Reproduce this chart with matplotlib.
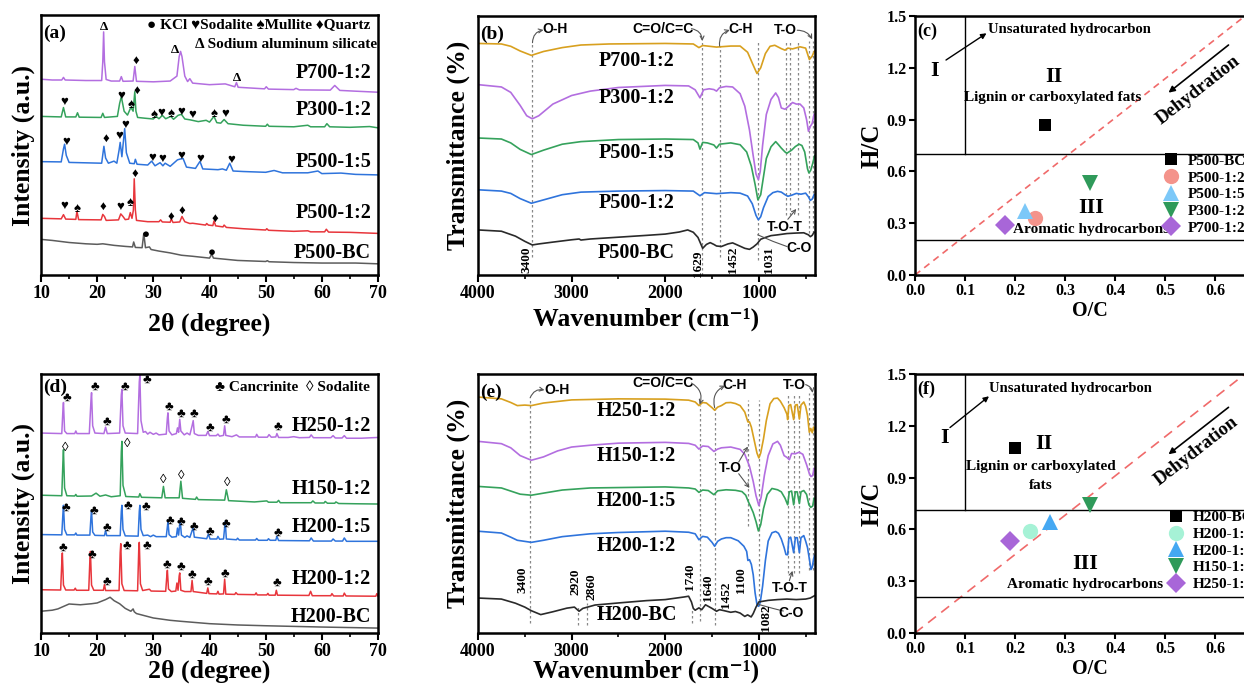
import matplotlib
matplotlib.use('Agg')
import matplotlib.pyplot as plt
from matplotlib.ticker import MultipleLocator, FormatStrFormatter

plt.rcParams['font.family'] = ['Liberation Serif', 'DejaVu Serif', 'DejaVu Sans']
plt.rcParams['font.weight'] = 'bold'
plt.rcParams['axes.linewidth'] = 1.8

# ---------------- (a) XRD, P series (2theta, intensity a.u.) ----------------
xrd_p700 = [(10, 75.3), (12, 75.0), (13.7, 75.0), (14.0, 76.0), (14.3, 75.0), (18, 74.8), (20.8, 74.8),
            (21.0, 82), (21.15, 93.5), (21.3, 82), (21.6, 75.2), (22.5, 74.6), (24.0, 74.6), (24.3, 76.3),
            (24.6, 74.5), (26.4, 74.6), (26.7, 80.2), (27.0, 74.5), (30, 74.3), (33, 74.6), (34.2, 76.5),
            (34.6, 84), (34.85, 86.0), (35.1, 84), (35.6, 76.5), (36.1, 74.4), (36.5, 75.5), (37.0, 73.8),
            (40, 73.2), (42.8, 73.5), (44.5, 72.4), (44.8, 74.0), (45.1, 72.2), (49.8, 71.6), (50.1, 72.4),
            (50.5, 71.5), (55, 71.3), (55.4, 71.8), (56, 71.2), (61.5, 71.1), (62.3, 72.9), (63.2, 71.0),
            (66, 70.7), (70, 70.3)]
xrd_p300 = [(10, 61.0), (13.6, 60.8), (14.0, 64.4), (14.4, 60.8), (16.2, 60.8), (16.5, 62.4), (16.8, 60.7),
            (20.7, 60.6), (21.0, 62.2), (21.3, 60.6), (23.6, 61.0), (24.0, 66.0), (24.3, 68.6), (24.8, 63.0),
            (25.4, 61.5), (26.0, 64.5), (26.4, 63.0), (26.7, 70.5), (26.9, 63.0), (27.2, 60.6), (28.5, 60.3),
            (30.0, 60.0), (30.5, 61.0), (31.0, 60.1), (31.6, 61.4), (32.2, 60.1), (33.1, 61.0), (33.6, 59.9),
            (34.4, 61.4), (35.0, 61.8), (35.6, 60.0), (36.5, 59.7), (38, 59.0), (39.4, 59.5), (40.0, 58.8),
            (40.8, 61.0), (41.3, 58.6), (42.0, 58.4), (42.6, 59.8), (43.3, 58.2), (46, 57.6), (50.0, 57.2),
            (50.3, 58.0), (50.6, 57.2), (55, 57.0), (57.5, 57.6), (58, 57.0), (60.5, 57.0), (60.9, 58.2),
            (61.4, 57.0), (65, 56.8), (68.5, 57.1), (70, 56.6)]
xrd_p500_15 = [(10, 43.6), (13.6, 43.5), (14.0, 48.5), (14.2, 50.3), (14.5, 46), (15.0, 43.3), (20.8, 43.0),
               (21.2, 49.5), (21.5, 45), (22.0, 43.0), (23.0, 43.8), (23.5, 43.0), (23.9, 48), (24.1, 51.0),
               (24.4, 45.5), (24.7, 52), (24.9, 56.3), (25.2, 47), (25.8, 43), (26.6, 42.8), (26.8, 44.5),
               (27.1, 42.6), (29.0, 42.3), (29.7, 43.8), (30.3, 42.0), (31.2, 43.2), (31.7, 42.0), (32.1, 43.0),
               (33.0, 41.8), (34.3, 44.3), (34.8, 44.6), (35.3, 44.8), (35.9, 41.5), (37.5, 41.0), (38.3, 43.7),
               (38.8, 40.8), (41.5, 40.5), (42.3, 40.8), (43.0, 40.3), (43.6, 43.0), (44.2, 40.0), (46, 39.8),
               (50, 39.5), (51.5, 40.2), (53, 39.3), (57.5, 39.3), (59.3, 40.0), (60, 39.0), (63.4, 39.2),
               (66, 38.7), (70, 38.5)]
xrd_p500_12 = [(10, 21.8), (13.6, 21.6), (14.0, 23.2), (14.4, 21.5), (16.2, 21.4), (16.4, 24.5), (16.7, 21.3),
               (20.7, 21.2), (21.0, 23.3), (21.3, 22.5), (21.6, 21.0), (23.8, 21.2), (24.2, 23.5), (24.6, 22.5),
               (25.0, 21.3), (25.6, 21.5), (25.9, 24.0), (26.2, 21.8), (26.45, 25), (26.6, 37.0), (26.8, 25),
               (27.0, 21.0), (29, 20.5), (31.0, 20.5), (31.3, 21.2), (31.6, 20.4), (33.0, 20.3), (33.2, 21.6),
               (33.5, 20.2), (34.7, 20.4), (35.1, 22.5), (35.6, 20.5), (36.5, 19.8), (37, 19.9), (39.3, 19.2),
               (39.5, 19.8), (39.8, 19.2), (40.6, 19.0), (40.8, 20.8), (41.1, 18.9), (42.4, 18.5), (42.6, 19.2),
               (43, 18.3), (46, 17.8), (50, 17.3), (50.2, 17.8), (50.5, 17.2), (55, 16.8), (57.5, 17.0),
               (58, 16.6), (60.5, 16.6), (60.8, 17.6), (61.2, 16.5), (65, 16.4), (70, 16.0)]
xrd_p500_bc = [(10, 13.7), (12, 13.3), (15, 12.5), (18, 12.0), (20, 11.8), (21, 12.0), (23, 11.4), (25, 11.0),
               (26.3, 10.8), (26.5, 12.7), (26.8, 10.6), (28.0, 10.5), (28.3, 16.0), (28.6, 10.5), (29.3, 10.8),
               (29.6, 9.8), (31, 9.2), (33, 8.5), (35, 7.6), (37, 7.2), (40, 6.5), (40.4, 8.0), (40.7, 6.5),
               (45, 5.6), (50, 5.2), (50.3, 5.5), (50.6, 5.1), (55, 4.8), (60, 4.6), (66, 4.6), (70, 4.3)]
a_names = ['P700-1:2', 'P300-1:2', 'P500-1:5', 'P500-1:2', 'P500-BC']
a_label_y = [77.6, 63.5, 43.6, 23.7, 8.3]
a_phase_marks = [('Δ', 21.2, 95.5), ('♦', 26.9, 82.5), ('Δ', 33.8, 86.5), ('Δ', 44.9, 75.8),
                 ('♥', 14.2, 66.5), ('♥', 24.3, 69.0), ('♠', 26.0, 65.2), ('♦', 27.1, 71.0), ('♠', 30.1, 61.5),
                 ('♥', 31.5, 62.5), ('♠', 33.1, 62.0), ('♥', 35.0, 62.8), ('♥', 36.9, 61.5), ('♠', 40.8, 61.8),
                 ('♥', 42.8, 61.8),
                 ('♥', 14.5, 51.3), ('♦', 21.6, 52.2), ('♥', 23.9, 53.5), ('♥', 25.0, 57.8), ('♥', 29.8, 44.9),
                 ('♥', 31.6, 44.5), ('♥', 35.0, 45.8), ('♥', 38.4, 44.6), ('♥', 43.8, 44.2),
                 ('♥', 14.1, 26.5), ('♠', 16.5, 25.5), ('♦', 21.0, 26.2), ('♥', 24.1, 26.2), ('♠', 25.8, 27.8),
                 ('♦', 26.7, 38.8), ('♦', 33.2, 22.2), ('♦', 35.1, 24.6), ('♦', 40.9, 21.5),
                 ('●', 28.6, 15.5), ('●', 40.5, 8.6)]

# ---------------- (d) XRD, H series ----------------
xrd_h250 = [(10, 77.2), (13.7, 77.0), (13.9, 86), (14.0, 89.0), (14.2, 78), (14.6, 77.0), (16.0, 77.0),
            (16.2, 78.0), (16.4, 77.0), (18.6, 77.0), (18.9, 90), (19.0, 92.8), (19.2, 80), (19.6, 77.2),
            (21.2, 77.0), (21.5, 79.5), (21.8, 77.0), (24.0, 77.2), (24.3, 92), (24.4, 94.0), (24.6, 80),
            (25.0, 77.2), (27.2, 77.0), (27.5, 97), (27.6, 99.5), (27.8, 82), (28.2, 77.5), (28.6, 77.8),
            (29.0, 76.8), (29.4, 77.5), (30, 76.7), (30.5, 77.2), (31, 76.5), (32.3, 76.8), (32.5, 83),
            (32.6, 85.0), (32.8, 78), (33.3, 76.5), (34.1, 77), (34.3, 79.2), (34.5, 77.5), (34.7, 82.5),
            (34.9, 78), (35.5, 76.5), (36.0, 77.2), (36.5, 76.5), (36.9, 80), (37.1, 82.0), (37.3, 77),
            (38.0, 76.3), (39.4, 76.3), (39.7, 77.8), (40.0, 76.2), (41.2, 76.2), (41.5, 76.8), (41.8, 76.0),
            (42.5, 76.3), (42.7, 80.0), (42.9, 76.3), (44, 75.8), (44.8, 76.5), (45.3, 75.7), (48.2, 75.7),
            (48.4, 76.7), (48.7, 75.6), (50.3, 75.6), (50.6, 76.6), (51.0, 75.6), (51.8, 75.7), (52.0, 77.0),
            (52.3, 75.5), (54, 75.5), (55, 75.8), (56, 75.4), (57.8, 75.5), (58.1, 76.5), (58.5, 75.4),
            (61.6, 75.4), (62.0, 76.2), (62.4, 75.3), (63.6, 75.3), (64.0, 76.2), (64.4, 75.2), (67, 75.2),
            (70, 75.5)]
xrd_h150 = [(10, 53.2), (13.7, 53.0), (13.9, 66), (14.0, 70.8), (14.2, 56), (14.6, 53.0), (16.0, 52.9),
            (16.2, 53.5), (16.4, 52.8), (19.0, 52.9), (19.8, 54.0), (20.5, 52.8), (21.5, 53.3), (22.5, 52.6),
            (24.1, 53), (24.3, 70), (24.4, 74.0), (24.6, 57), (25.1, 52.7), (27.4, 52.5), (27.6, 53.8),
            (27.9, 52.4), (31.5, 52.2), (31.8, 56.6), (32.1, 52.2), (34.6, 52.2), (34.9, 58.6), (35.2, 52.0),
            (37.5, 51.6), (37.7, 52.5), (38.0, 51.5), (42.7, 51.3), (43.0, 55.3), (43.4, 51.1), (48, 50.6),
            (50.2, 51.0), (50.5, 50.5), (52.0, 50.5), (52.3, 51.2), (52.6, 50.3), (58.1, 50.3), (58.4, 51.0),
            (58.8, 50.2), (60.4, 50.2), (60.6, 50.8), (61, 50.1), (62.3, 50.1), (62.5, 50.6), (63, 50.0),
            (66, 49.9), (70, 49.8)]
xrd_h200_15 = [(10, 38.0), (13.7, 37.9), (13.9, 46), (14.0, 49.3), (14.2, 40), (14.6, 37.9), (16.0, 37.9),
               (16.2, 38.6), (16.4, 37.8), (18.7, 37.8), (18.9, 45), (19.0, 47.2), (19.2, 39), (19.6, 37.7),
               (21.3, 37.6), (21.5, 39.6), (21.7, 37.6), (24.1, 37.6), (24.3, 47), (24.4, 49.3), (24.6, 40),
               (25.0, 37.5), (27.3, 37.4), (27.5, 47), (27.6, 49.3), (27.8, 40), (28.2, 37.6), (29.0, 37.8),
               (29.5, 37.2), (30.0, 37.8), (30.5, 37.2), (32.3, 37.2), (32.5, 41), (32.6, 43.1), (32.8, 38),
               (33.3, 37.0), (34.1, 37.2), (34.3, 40.5), (34.5, 37.8), (34.7, 42), (34.8, 43.1), (35.0, 37.8),
               (35.6, 36.9), (36.0, 37.5), (36.5, 36.9), (36.9, 39.5), (37.1, 40.5), (37.3, 37.0), (39.5, 36.4),
               (39.8, 38.2), (40.1, 36.3), (41.3, 36.3), (41.5, 37.3), (41.8, 36.2), (42.5, 36.3), (42.8, 43.1),
               (43.0, 36.3), (44.8, 36.0), (45, 36.6), (45.3, 35.9), (48.2, 35.9), (48.4, 36.5), (48.7, 35.8),
               (50.3, 35.8), (50.5, 36.4), (50.8, 35.8), (51.8, 35.8), (52.0, 37.3), (52.3, 35.7), (57.8, 35.6),
               (58.1, 36.7), (58.5, 35.5), (61.7, 35.5), (62.0, 36.3), (62.4, 35.5), (63.7, 35.5), (64.0, 36.7),
               (64.4, 35.4), (70, 35.4)]
xrd_h200_12 = [(10, 16.7), (13.5, 16.6), (13.7, 27), (13.8, 30.9), (14.0, 18.5), (14.4, 16.6), (15.9, 16.6),
               (16.1, 17.3), (16.3, 16.5), (18.5, 16.5), (18.7, 28), (18.8, 31.5), (19.0, 18.5), (19.4, 16.5),
               (21.1, 16.5), (21.3, 18.7), (21.5, 16.4), (23.9, 16.4), (24.1, 31), (24.2, 34.5), (24.4, 19),
               (24.8, 16.4), (27.2, 16.3), (27.4, 32), (27.5, 35.0), (27.7, 19), (28.1, 16.4), (29.3, 16.9),
               (29.6, 16.2), (32.2, 16.1), (32.4, 22), (32.5, 24.2), (32.7, 17), (33.2, 16.0), (34.0, 16.2),
               (34.2, 19.3), (34.4, 16.5), (34.6, 22), (34.7, 23.2), (34.9, 16.5), (35.6, 16.0), (36.7, 16.0),
               (36.9, 20.3), (37.1, 16.0), (39.5, 15.3), (39.7, 17.4), (39.9, 15.2), (41.3, 15.1), (41.5, 16.1),
               (41.7, 15.0), (42.5, 15.1), (42.7, 20.8), (42.9, 15.0), (44.5, 14.9), (44.7, 15.6), (45, 14.9),
               (48.1, 14.8), (48.3, 15.5), (48.5, 14.7), (50.2, 14.7), (50.4, 15.3), (50.6, 14.6), (51.7, 14.6),
               (51.9, 16.5), (52.1, 14.6), (57.7, 14.5), (58.0, 16.1), (58.3, 14.4), (61.6, 14.4), (61.8, 15.2),
               (62.1, 14.3), (63.8, 14.3), (64.0, 15.4), (64.3, 14.3), (69.6, 14.2), (69.8, 15.2), (70, 14.2)]
xrd_h200_bc = [(10, 8.4), (12, 8.8), (13, 9.3), (15, 11.2), (17, 10.9), (19, 11.3), (20, 11.6), (21.5, 12.9),
               (22.3, 13.8), (23, 12.5), (24, 11.3), (25, 9.5), (26, 8.4), (26.4, 9.3), (26.6, 8.2), (27, 7.5),
               (30, 5.8), (33, 4.9), (35, 4.5), (40, 3.6), (45, 3.1), (50, 2.8), (60, 2.3), (70, 1.9)]
d_names = ['H250-1:2', 'H150-1:2', 'H200-1:5', 'H200-1:2', 'H200-BC']
d_label_y = [80.0, 55.6, 40.8, 20.8, 6.2]
d_phase_marks = [('♣', 14.6, 90.7), ('♣', 19.6, 95.0), ('♣', 21.7, 81.7), ('♣', 25.0, 95.0), ('♣', 28.8, 97.8),
                 ('♣', 32.8, 87.5), ('♣', 35.0, 84.7), ('♣', 37.3, 84.7), ('♣', 40.0, 79.2), ('♣', 42.9, 82.4),
                 ('♣', 52.2, 79.5),
                 ('◊', 14.3, 71.4), ('◊', 25.3, 73.1), ('◊', 31.8, 58.9), ('◊', 34.9, 60.5), ('◊', 43.1, 57.9),
                 ('♣', 14.5, 48.3), ('♣', 19.5, 47.0), ('♣', 21.7, 40.5), ('♣', 25.4, 49.3), ('♣', 28.7, 48.9),
                 ('♣', 33.0, 43.4), ('♣', 35.0, 42.9), ('♣', 37.3, 40.9), ('♣', 40.0, 39.0), ('♣', 42.9, 42.2),
                 ('♣', 52.2, 38.6),
                 ('♣', 14.0, 32.8), ('♣', 19.0, 30.2), ('♣', 21.7, 19.9), ('♣', 25.3, 33.5), ('♣', 28.8, 33.5),
                 ('♣', 32.5, 26.4), ('♣', 35.0, 25.7), ('♣', 36.9, 22.5), ('♣', 39.8, 19.6), ('♣', 42.7, 22.9),
                 ('♣', 52.0, 19.3)]

# ---------------- (b) FTIR, P series (wavenumber, transmittance a.u.) ----------------
ir_p700 = [(4000, 89.4), (3750, 89.2), (3650, 88.3), (3550, 86.5), (3430, 84.8), (3300, 86.3), (3100, 87.8),
           (2900, 88.8), (2600, 89.2), (2000, 89.4), (1700, 89.2), (1640, 87.8), (1600, 88.6), (1452, 88.0),
           (1300, 88.4), (1200, 88.4), (1120, 86), (1060, 81), (1020, 77.8), (980, 80), (930, 85.5),
           (880, 88.3), (830, 88.7), (760, 87.4), (720, 86.8), (690, 87.6), (640, 87.3), (560, 88.1),
           (500, 87.6), (460, 83.2), (430, 84.5), (415, 85.8), (405, 86.5)]
ir_p300 = [(4000, 73.5), (3750, 72.6), (3650, 70.5), (3550, 65.5), (3480, 61.5), (3420, 60.3), (3350, 61.5),
           (3200, 66.0), (3000, 69.3), (2800, 71.0), (2500, 72.4), (2000, 73.2), (1750, 73.0), (1680, 71.5),
           (1629, 68.4), (1590, 71.5), (1530, 71.9), (1480, 71.6), (1452, 71.0), (1420, 72.3), (1350, 72.8),
           (1280, 72.6), (1200, 70.0), (1150, 65.2), (1100, 56), (1060, 46), (1030, 39), (1005, 36.8),
           (985, 40), (960, 50), (920, 62), (870, 67.8), (820, 70.3), (790, 68.5), (760, 64.5), (720, 64.0),
           (700, 64.6), (680, 65.2), (640, 66.6), (600, 66.0), (560, 66.0), (520, 64.5), (490, 60),
           (470, 55.5), (450, 57.4), (430, 58.5), (410, 62.0)]
ir_p500_15 = [(4000, 52.9), (3750, 52.5), (3650, 51.0), (3550, 48.5), (3430, 46.5), (3300, 48.2), (3100, 50.5),
              (2900, 51.5), (2500, 52.3), (2000, 52.5), (1700, 52.3), (1650, 51.0), (1629, 48.6), (1600, 51.2),
              (1550, 51.0), (1480, 50.2), (1452, 49.0), (1420, 50.5), (1300, 51.0), (1200, 50.3), (1130, 47.5),
              (1080, 42), (1040, 35), (1010, 29.0), (980, 31), (950, 38), (920, 45), (870, 49.5), (820, 51.5),
              (790, 50.3), (760, 49.0), (720, 47.5), (700, 47.0), (680, 47.5), (650, 48.2), (610, 49.6),
              (570, 50.5), (540, 50.0), (510, 47.5), (480, 41), (465, 39.4), (445, 40.5), (425, 43.0),
              (405, 46.0)]
ir_p500_12 = [(4000, 32.9), (3750, 32.4), (3650, 31.5), (3550, 29.5), (3430, 27.7), (3300, 29.0), (3100, 31.0),
              (2900, 32.0), (2500, 32.4), (2000, 32.6), (1700, 32.4), (1629, 30.6), (1580, 31.8), (1452, 31.4),
              (1300, 31.8), (1200, 31.6), (1120, 30.5), (1070, 27.5), (1030, 23.0), (1005, 21.3), (980, 22.5),
              (950, 26.0), (900, 30.3), (850, 31.8), (800, 32.3), (760, 32.0), (720, 31.0), (690, 30.4),
              (650, 30.8), (600, 31.5), (550, 31.2), (500, 31.6), (470, 30.2), (450, 28.8), (430, 29.3),
              (410, 31.0)]
ir_p500_bc = [(4000, 17.4), (3750, 16.9), (3600, 15.0), (3500, 13.0), (3420, 11.6), (3350, 12.0), (3200, 12.7),
              (3000, 13.6), (2920, 13.9), (2900, 13.5), (2800, 13.9), (2500, 14.6), (2200, 15.3), (2000, 15.8),
              (1850, 16.6), (1760, 17.4), (1700, 16.5), (1650, 14.5), (1600, 10.3), (1560, 11.8), (1520, 12.5),
              (1480, 11.8), (1452, 11.2), (1400, 11.0), (1330, 12.0), (1280, 12.4), (1230, 11.6), (1150, 10.3),
              (1100, 9.9), (1060, 10.8), (1020, 12.0), (980, 13.8), (930, 14.5), (870, 15.2), (800, 15.5),
              (700, 16.0), (600, 16.2), (520, 16.3), (470, 15.5), (450, 14.8), (430, 15.3), (410, 16.5)]
b_label_y = [82.6, 68.4, 47.1, 27.7, 8.4]
# dashed guide lines: (wavenumber, y from, y to)
b_guides = [(3418, 7.1, 89.7), (1604, 0, 90.3), (1419, 7.1, 88.4), (1011, 5.8, 90.3), (709, 23.2, 90.3),
            (667, 23.2, 90.3), (581, 23.2, 90.3), (468, 16.1, 90.3), (426, 16.1, 90.3)]
b_numbers = [('3400', 3478, 5.8), ('1629', 1650, 4.5), ('1452', 1277, 5.8), ('1031', 887, 5.8)]

# ---------------- (e) FTIR, H series ----------------
ir_h250 = [(4000, 91.1), (3750, 90.4), (3650, 89.0), (3580, 87.8), (3500, 88.0), (3430, 87.8), (3300, 88.8),
           (3000, 90.0), (2500, 90.4), (2000, 90.3), (1750, 89.9), (1680, 89.2), (1640, 87.8), (1600, 89.0),
           (1560, 88.8), (1500, 87.0), (1472, 86.0), (1440, 87.2), (1400, 87.8), (1350, 88.9), (1300, 89.0),
           (1250, 88.6), (1200, 87.8), (1150, 85.3), (1117, 81.5), (1100, 81.5), (1080, 79.5), (1050, 74.5),
           (1020, 69.5), (1000, 67.6), (980, 69.5), (950, 75), (920, 82), (880, 88.5), (840, 90.5),
           (800, 90.7), (770, 89.5), (730, 87.0), (700, 84.5), (692, 82.4), (680, 87.8), (660, 88.2),
           (628, 82.4), (610, 88.0), (590, 88.2), (567, 82.6), (550, 88.0), (520, 89.2), (500, 87.5),
           (480, 84.0), (461, 77.5), (445, 79.0), (429, 77.3), (415, 79.5), (405, 78.5)]
ir_h150 = [(4000, 74.0), (3750, 73.1), (3650, 71.5), (3550, 68.5), (3430, 66.7), (3300, 68.0), (3150, 70.3),
           (3000, 71.8), (2800, 72.5), (2500, 73.3), (2000, 73.6), (1750, 73.2), (1680, 72.5), (1640, 71.0),
           (1600, 72.2), (1540, 72.0), (1480, 70.1), (1440, 71.0), (1400, 71.5), (1300, 71.8), (1200, 70.9),
           (1150, 69.0), (1100, 64.4), (1060, 58.5), (1030, 53), (1000, 49.2), (975, 52.5), (940, 61),
           (900, 68.5), (850, 73.0), (800, 74.0), (770, 72.5), (730, 68.5), (700, 67.8), (674, 66.9),
           (650, 69.3), (610, 69.2), (570, 69.8), (530, 69.0), (490, 65.0), (460, 61.5), (443, 60.4),
           (425, 60.8), (410, 63.5)]
ir_h200_15 = [(4000, 56.6), (3750, 56.0), (3650, 54.8), (3550, 53.6), (3430, 53.2), (3300, 54.0), (3100, 55.2),
              (2800, 56.0), (2000, 56.4), (1750, 56.0), (1680, 55.6), (1640, 54.3), (1600, 55.2), (1540, 55.0),
              (1480, 53.4), (1440, 54.9), (1350, 55.3), (1250, 55.1), (1180, 54.6), (1140, 53.2), (1110, 50.5),
              (1090, 49.0), (1060, 46.5), (1030, 43.0), (1005, 39.4), (980, 41.8), (950, 48), (910, 53.5),
              (860, 55.8), (800, 55.3), (760, 54.5), (720, 52.0), (692, 49.5), (675, 54.5), (650, 54.8),
              (628, 49.5), (610, 54.5), (590, 54.5), (567, 50.0), (550, 54.5), (520, 55.0), (490, 53.5),
              (465, 49.5), (445, 48.5), (425, 49.0), (410, 52.0)]
ir_h200_12 = [(4000, 39.3), (3750, 38.6), (3650, 37.0), (3580, 35.8), (3430, 35.0), (3300, 35.8), (3100, 37.2),
              (2800, 38.3), (2500, 38.8), (2000, 39.3), (1750, 38.9), (1680, 38.3), (1640, 36.0), (1600, 37.3),
              (1550, 37.0), (1500, 35.0), (1472, 33.5), (1440, 35.4), (1400, 36.3), (1350, 36.8), (1300, 36.8),
              (1220, 35.6), (1160, 33.5), (1130, 31.5), (1117, 28.0), (1100, 28.3), (1080, 26.5), (1060, 22.5),
              (1040, 15.5), (1020, 11.0), (1005, 10.3), (985, 11.8), (960, 18), (930, 28), (900, 35.5),
              (860, 38.7), (820, 39.2), (790, 38.5), (760, 36.3), (730, 33.0), (710, 30.3), (692, 30.2),
              (680, 36.5), (660, 37.0), (628, 31.0), (610, 36.8), (590, 36.8), (567, 31.0), (550, 36.8),
              (520, 37.6), (500, 35.5), (480, 33.0), (460, 28.5), (443, 24.5), (429, 25.5), (415, 28.5),
              (405, 30.0)]
ir_h200_bc = [(4000, 13.5), (3750, 13.1), (3600, 11.5), (3500, 10.0), (3430, 8.6), (3330, 7.1), (3200, 8.2),
              (3050, 9.6), (2970, 10.0), (2920, 8.4), (2880, 9.5), (2860, 9.7), (2750, 10.8), (2500, 11.6),
              (2200, 12.5), (2000, 12.9), (1800, 13.9), (1750, 14.2), (1720, 12.0), (1700, 9.5), (1680, 8.8),
              (1640, 9.7), (1610, 9.0), (1570, 10.9), (1540, 10.3), (1500, 9.5), (1452, 8.4), (1420, 9.0),
              (1380, 8.7), (1300, 8.0), (1250, 8.3), (1200, 7.7), (1150, 6.4), (1120, 7.0), (1082, 6.2),
              (1060, 7.5), (1030, 10.0), (1000, 12.0), (950, 12.3), (900, 12.6), (800, 12.9), (700, 13.1),
              (600, 12.9), (500, 13.1), (450, 13.5), (405, 14.4)]
e_label_y = [85.6, 68.2, 50.8, 33.5, 7.1]
e_guides = [(3443, 3.9, 90.8), (2928, 3.2, 10.3), (2839, 3.2, 11.6), (1710, 3.9, 9.0), (1632, 4.5, 88.2),
            (1472, 3.2, 87.0), (1117, 41.2, 90.1), (1000, 10.3, 90.1), (692, 23.2, 92.7), (628, 23.2, 92.7),
            (567, 23.2, 92.7), (468, 24.5, 92.7), (425, 24.5, 92.7)]
e_numbers = [('3400', 3521, 20.6), ('2920', 2963, 19.9), ('2860', 2786, 18.0), ('1740', 1730, 21.9),
             ('1640', 1542, 17.4), ('1452', 1354, 14.8), ('1100', 1188, 20.6), ('1082', 922, 5.8)]

# ---------------- (c)/(f) van Krevelen ----------------
c_names = ['P500-BC', 'P500-1:2', 'P500-1:5', 'P300-1:2', 'P700-1:2']
c_oc = [0.26, 0.24, 0.22, 0.35, 0.18]
c_hc = [0.87, 0.33, 0.37, 0.53, 0.29]
f_names = ['H200-BC', 'H200-1:2', 'H200-1:5', 'H150-1:2', 'H250-1:2']
f_oc = [0.20, 0.23, 0.27, 0.35, 0.19]
f_hc = [1.07, 0.59, 0.64, 0.74, 0.53]
diag_oc = [0.0, 0.66]
diag_hc = [0.0, 1.5]

xrd_colors = ['#b36ee0', '#35a25c', '#2f74dc', '#e8363c', '#5c5c5c']
ir_colors = ['#d8a01f', '#b36ee0', '#35a25c', '#2f74dc', '#2a2a2a']
c_colors = ['#000000', '#f4938b', '#7cc8f8', '#2f9a5a', '#a866d8']
f_colors = ['#000000', '#a6f2d6', '#45a8f2', '#2f9a5a', '#a866d8']
vk_markers = ['s', 'o', '^', 'v', 'D']
vk_sizes = [9, 11, 11, 11, 10]

fig = plt.figure(figsize=(12.44, 6.91), dpi=100)
W, H = 1244.0, 691.0


def box(l, t, r, b):
    return [l / W, 1 - b / H, (r - l) / W, (b - t) / H]


def frame(ax, lab, lab_y, ylabel, ylp):
    ax.set_yticks([])
    ax.tick_params(axis='x', which='major', direction='out', length=5, width=1.5, labelsize=13, pad=2)
    ax.tick_params(axis='x', which='minor', direction='out', length=3, width=1.2)
    ax.set_ylim(0, 100)
    ax.set_ylabel(ylabel, fontsize=18.5, fontweight='bold', labelpad=ylp)
    ax.text(0.006, lab_y, lab, transform=ax.transAxes, fontsize=14, fontweight='bold', va='center')


def xrd_panel(ax, curves, names, label_y, marks, lab, lab_y, xlp):
    for pts, c in zip(curves, xrd_colors):
        xs, ys = zip(*pts)
        ax.plot(xs, ys, color=c, lw=1.1)
    for n, y in zip(names, label_y):
        ax.text(68.8, y, n, ha='right', va='center', fontsize=14.5, fontweight='bold')
    for s, x, y in marks:
        ax.text(x, y, s, ha='center', va='center', fontsize=9.5, color='black')
    ax.set_xlim(10, 70)
    ax.xaxis.set_major_locator(MultipleLocator(10))
    ax.xaxis.set_minor_locator(MultipleLocator(5))
    ax.set_xlabel('2θ (degree)', fontsize=18.5, fontweight='bold', labelpad=xlp)
    frame(ax, lab, lab_y, 'Intensity (a.u.)', 4)


def ir_panel(ax, curves, label_y, names, guides, numbers, lab, lab_y, xlp):
    for wn, y0, y1 in guides:
        ax.plot([wn, wn], [y0, y1], color='#888888', lw=0.9, ls=(0, (2, 2)))
    for pts, c in zip(curves, ir_colors):
        xs, ys = zip(*pts)
        ax.plot(xs, ys, color=c, lw=1.2)
    for n, y in zip(names, label_y):
        ax.text(2307, y, n, ha='center', va='center', fontsize=14.5, fontweight='bold')
    for t, x, y in numbers:
        ax.text(x, y, t, rotation=90, ha='center', va='center', fontsize=9.5, fontweight='bold')
    ax.set_xlim(4000, 400)
    ax.xaxis.set_major_locator(MultipleLocator(1000))
    ax.xaxis.set_minor_locator(MultipleLocator(500))
    ax.set_xlabel('Wavenumber (cm⁻¹)', fontsize=18.5, fontweight='bold', labelpad=xlp)
    frame(ax, lab, lab_y, 'Transmittance (%)', 6)


sans = dict(family=['Liberation Sans', 'DejaVu Sans'], fontsize=10, fontweight='bold')
arr = dict(arrowstyle='->', color='#555555', lw=0.8, shrinkA=0, shrinkB=0, mutation_scale=7)


def curved(ax, start, end, rad):
    a = dict(arr)
    a['connectionstyle'] = 'arc3,rad=%s' % rad
    ax.annotate('', xy=end, xytext=start, arrowprops=a)


def vk_panel(ax, oc, hc, names, colors, hlines, lab, texts, diag_dash, legend_top):
    ax.plot(diag_oc, diag_hc, color='#f06a6a', lw=1.2, ls=(0, diag_dash))
    ax.plot([0.1, 0.1], [hlines[0], 1.5], color='black', lw=1.0)
    for h in hlines:
        ax.axhline(h, color='black', lw=1.0)
    for x, y, n, c, m, s in zip(oc, hc, names, colors, vk_markers, vk_sizes):
        ax.plot([x], [y], ls='none', marker=m, color=c, ms=s, label=n, markeredgewidth=0)
    ax.legend(loc='upper left', bbox_to_anchor=legend_top, bbox_transform=ax.transData, frameon=False,
              handlelength=1.0, handletextpad=0.6, labelspacing=0.2, borderpad=0,
              borderaxespad=0, prop=dict(weight='bold', size=11))
    ax.set_xlim(0, 0.7)
    ax.set_ylim(0, 1.5)
    ax.xaxis.set_major_locator(MultipleLocator(0.1))
    ax.yaxis.set_major_locator(MultipleLocator(0.3))
    ax.xaxis.set_major_formatter(FormatStrFormatter('%.1f'))
    ax.yaxis.set_major_formatter(FormatStrFormatter('%.1f'))
    ax.tick_params(direction='out', length=4, width=1.5, labelsize=11.5, pad=2)
    ax.set_xlabel('O/C', fontsize=14.5, fontweight='bold', labelpad=1)
    ax.set_ylabel('H/C', fontsize=18, fontweight='bold', labelpad=2)
    ax.text(0.005, 1.41, lab, fontsize=13, fontweight='bold', va='center')
    for t, x, y, fs, ha in texts:
        ax.text(x, y, t, fontsize=fs, fontweight='bold', ha=ha, va='center')


# (a)
ax = fig.add_axes(box(41, 15, 378, 275))
xrd_panel(ax, [xrd_p700, xrd_p300, xrd_p500_15, xrd_p500_12, xrd_p500_bc], a_names, a_label_y,
          a_phase_marks, '(a)', 0.93, 8)
ax.text(68.6, 96.2, '● KCl ♥Sodalite ♠Mullite ♦Quartz', ha='right', va='center', fontsize=11)
ax.text(69.8, 88.5, 'Δ Sodium aluminum silicate', ha='right', va='center', fontsize=11)

# (d)
ax = fig.add_axes(box(41, 374, 378, 633))
xrd_panel(ax, [xrd_h250, xrd_h150, xrd_h200_15, xrd_h200_12, xrd_h200_bc], d_names, d_label_y,
          d_phase_marks, '(d)', 0.95, 0)
ax.text(68.6, 94.6, '♣ Cancrinite  ◊ Sodalite', ha='right', va='center', fontsize=11)

# (b)
ax = fig.add_axes(box(478, 16, 815, 275))
ir_panel(ax, [ir_p700, ir_p300, ir_p500_15, ir_p500_12, ir_p500_bc], b_label_y, a_names, b_guides,
         b_numbers, '(b)', 0.93, 4)
ax.text(3180, 94.8, 'O-H', ha='center', va='center', **sans)
curved(ax, (3418, 89.7), (3300, 94.6), -0.4)
ax.text(2020, 95.1, 'C=O/C=C', ha='center', va='center', **sans)
curved(ax, (1720, 95.1), (1604, 90.3), -0.4)
ax.text(1200, 94.8, 'C-H', ha='center', va='center', **sans)
curved(ax, (1419, 88.4), (1310, 94.6), -0.4)
ax.text(715, 94.5, 'T-O', ha='center', va='center', **sans)
curved(ax, (590, 94.5), (430, 91.0), -0.3)
ax.text(720, 18.7, 'T-O-T', ha='center', va='center', **sans)
curved(ax, (690, 21.5), (600, 25.5), 0)
ax.text(575, 10.3, 'C-O', ha='center', va='center', **sans)
ax.plot([1011, 850, 700], [15.5, 13.0, 11.0], color='#555555', lw=0.8)

# (e)
ax = fig.add_axes(box(478, 374, 815, 633))
ir_panel(ax, [ir_h250, ir_h150, ir_h200_15, ir_h200_12, ir_h200_bc], e_label_y, d_names, e_guides,
         e_numbers, '(e)', 0.93, 0)
ax.text(3160, 94.0, 'O-H', ha='center', va='center', **sans)
curved(ax, (3443, 90.8), (3290, 93.8), -0.4)
ax.text(2020, 96.5, 'C=O/C=C', ha='center', va='center', **sans)
curved(ax, (1720, 96.5), (1632, 88.2), -0.4)
ax.text(1260, 95.9, 'C-H', ha='center', va='center', **sans)
curved(ax, (1472, 87.0), (1360, 95.5), -0.4)
ax.text(620, 95.9, 'T-O', ha='center', va='center', **sans)
curved(ax, (500, 95.9), (425, 92.7), -0.3)
ax.text(1300, 63.7, 'T-O', ha='center', va='center', **sans)
curved(ax, (1215, 66.0), (1117, 72.0), 0)
curved(ax, (1215, 61.5), (1100, 56.0), 0)
ax.text(674, 17.4, 'T-O-T', ha='center', va='center', **sans)
curved(ax, (674, 20.2), (640, 24.0), 0)
ax.text(657, 7.7, 'C-O', ha='center', va='center', **sans)
ax.plot([1000, 850, 740], [11.0, 9.5, 8.5], color='#555555', lw=0.8)

# (c)
ax = fig.add_axes(box(915, 16, 1265, 275))
c_texts = [('Unsaturated hydrocarbon', 0.147, 1.419, 10.5, 'left'), ('I', 0.04, 1.183, 16, 'center'),
           ('II', 0.277, 1.149, 16, 'center'), ('Lignin or carboxylated fats', 0.275, 1.027, 11, 'center'),
           ('III', 0.353, 0.386, 16, 'center'), ('Aromatic hydrocarbons', 0.353, 0.264, 11, 'center')]
vk_panel(ax, c_oc, c_hc, c_names, c_colors, [0.7, 0.2], '(c)', c_texts, (4, 3), (0.497, 0.70))
ax.annotate('', xy=(0.143, 1.40), xytext=(0.062, 1.245),
            arrowprops=dict(arrowstyle='-|>', color='black', lw=1.0, mutation_scale=8, shrinkA=0, shrinkB=0))
ax.annotate('', xy=(0.507, 1.056), xytext=(0.627, 1.332),
            arrowprops=dict(arrowstyle='-|>', color='black', lw=1.2, mutation_scale=9, shrinkA=0, shrinkB=0))
ax.text(0.567, 1.068, 'Dehydration', rotation=38, ha='center', va='center', fontsize=13.5, fontweight='bold')

# (f)
ax = fig.add_axes(box(915, 374, 1265, 633))
f_texts = [('Unsaturated hydrocarbon', 0.148, 1.414, 10.5, 'left'), ('I', 0.059, 1.132, 16, 'center'),
           ('II', 0.257, 1.093, 16, 'center'), ('Lignin or carboxylated', 0.252, 0.967, 11, 'center'),
           ('fats', 0.252, 0.854, 11, 'center'), ('III', 0.34, 0.40, 16, 'center'),
           ('Aromatic hydrocarbons', 0.341, 0.278, 11, 'center')]
vk_panel(ax, f_oc, f_hc, f_names, f_colors, [0.71, 0.21], '(f)', f_texts, (6, 4), (0.507, 0.71))
ax.annotate('', xy=(0.148, 1.371), xytext=(0.07, 1.19),
            arrowprops=dict(arrowstyle='-|>', color='black', lw=1.0, mutation_scale=8, shrinkA=0, shrinkB=0))
ax.annotate('', xy=(0.507, 1.035), xytext=(0.627, 1.307),
            arrowprops=dict(arrowstyle='-|>', color='black', lw=1.2, mutation_scale=9, shrinkA=0, shrinkB=0))
ax.text(0.562, 1.055, 'Dehydration', rotation=38, ha='center', va='center', fontsize=13.5, fontweight='bold')

fig.savefig('out.png', dpi=100)
